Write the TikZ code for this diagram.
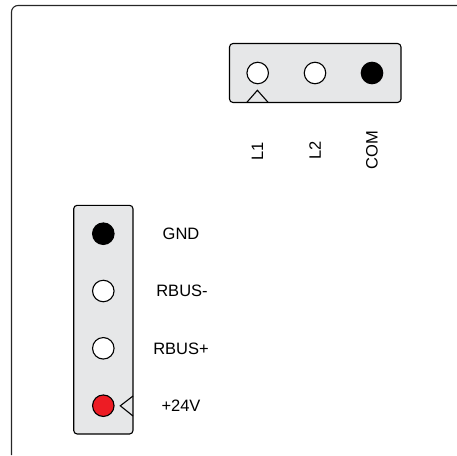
\documentclass[tikz,border=0pt]{standalone}
\usepackage{fontspec}
\setmainfont{Liberation Sans}
\definecolor{panel}{HTML}{E6E7E8}
\definecolor{pinred}{HTML}{ED1C24}
\tikzset{
  housing/.style={draw=black,fill=panel,line width=1.1pt,rounded corners=3.5pt},
  pin/.style={circle,draw=black,line width=1.1pt,minimum size=21.5pt,inner sep=0pt,fill=white},
  pinblack/.style={pin,fill=black},
  pinredfill/.style={pin,fill=pinred},
  marker/.style={draw=black,line width=1.1pt,line join=miter},
  lab/.style={font=\fontsize{16.5}{19}\selectfont,inner sep=0pt,text=black}
}
\begin{document}
\begin{tikzpicture}[x=1pt,y=-1pt]
\useasboundingbox (0,0) rectangle (457,455);
\draw[line width=1.1pt,black!85,rounded corners=6.5pt] (11.5,455) -- (11.5,5.5) -- (457,5.5);
% top connector
\draw[housing] (229.5,43.5) rectangle (401,102.5);
\node[pin] (l1) at (257.7,73) {};
\node[pin] (l2) at (315,73) {};
\node[pinblack] (com) at (372,73) {};
\draw[marker] (246.7,102.5) -- (257.4,90.3) -- (268.2,102.5);
\node[lab,rotate=90] (tl1) at (257.5,151) {L1};
\node[lab,rotate=90] (tl2) at (315,150.5) {L2};
\node[lab,rotate=90] (tcom) at (372,150) {COM};
% left connector
\draw[housing] (73.7,205.3) rectangle (133,434);
\node[pinblack] (gnd) at (103.3,233.7) {};
\node[pin] (rm) at (103.3,291) {};
\node[pin] (rp) at (103.3,348.3) {};
\node[pinredfill] (v24) at (103.3,405.7) {};
\draw[marker] (133,396) -- (120.3,405.8) -- (133,416);
\node[lab] (tgnd) at (181,234) {GND};
\node[lab] (trm) at (182,291) {RBUS-};
\node[lab] (trp) at (181,348.5) {RBUS+};
\node[lab] (tv) at (181,405.5) {+24V};
\end{tikzpicture}
\end{document}
